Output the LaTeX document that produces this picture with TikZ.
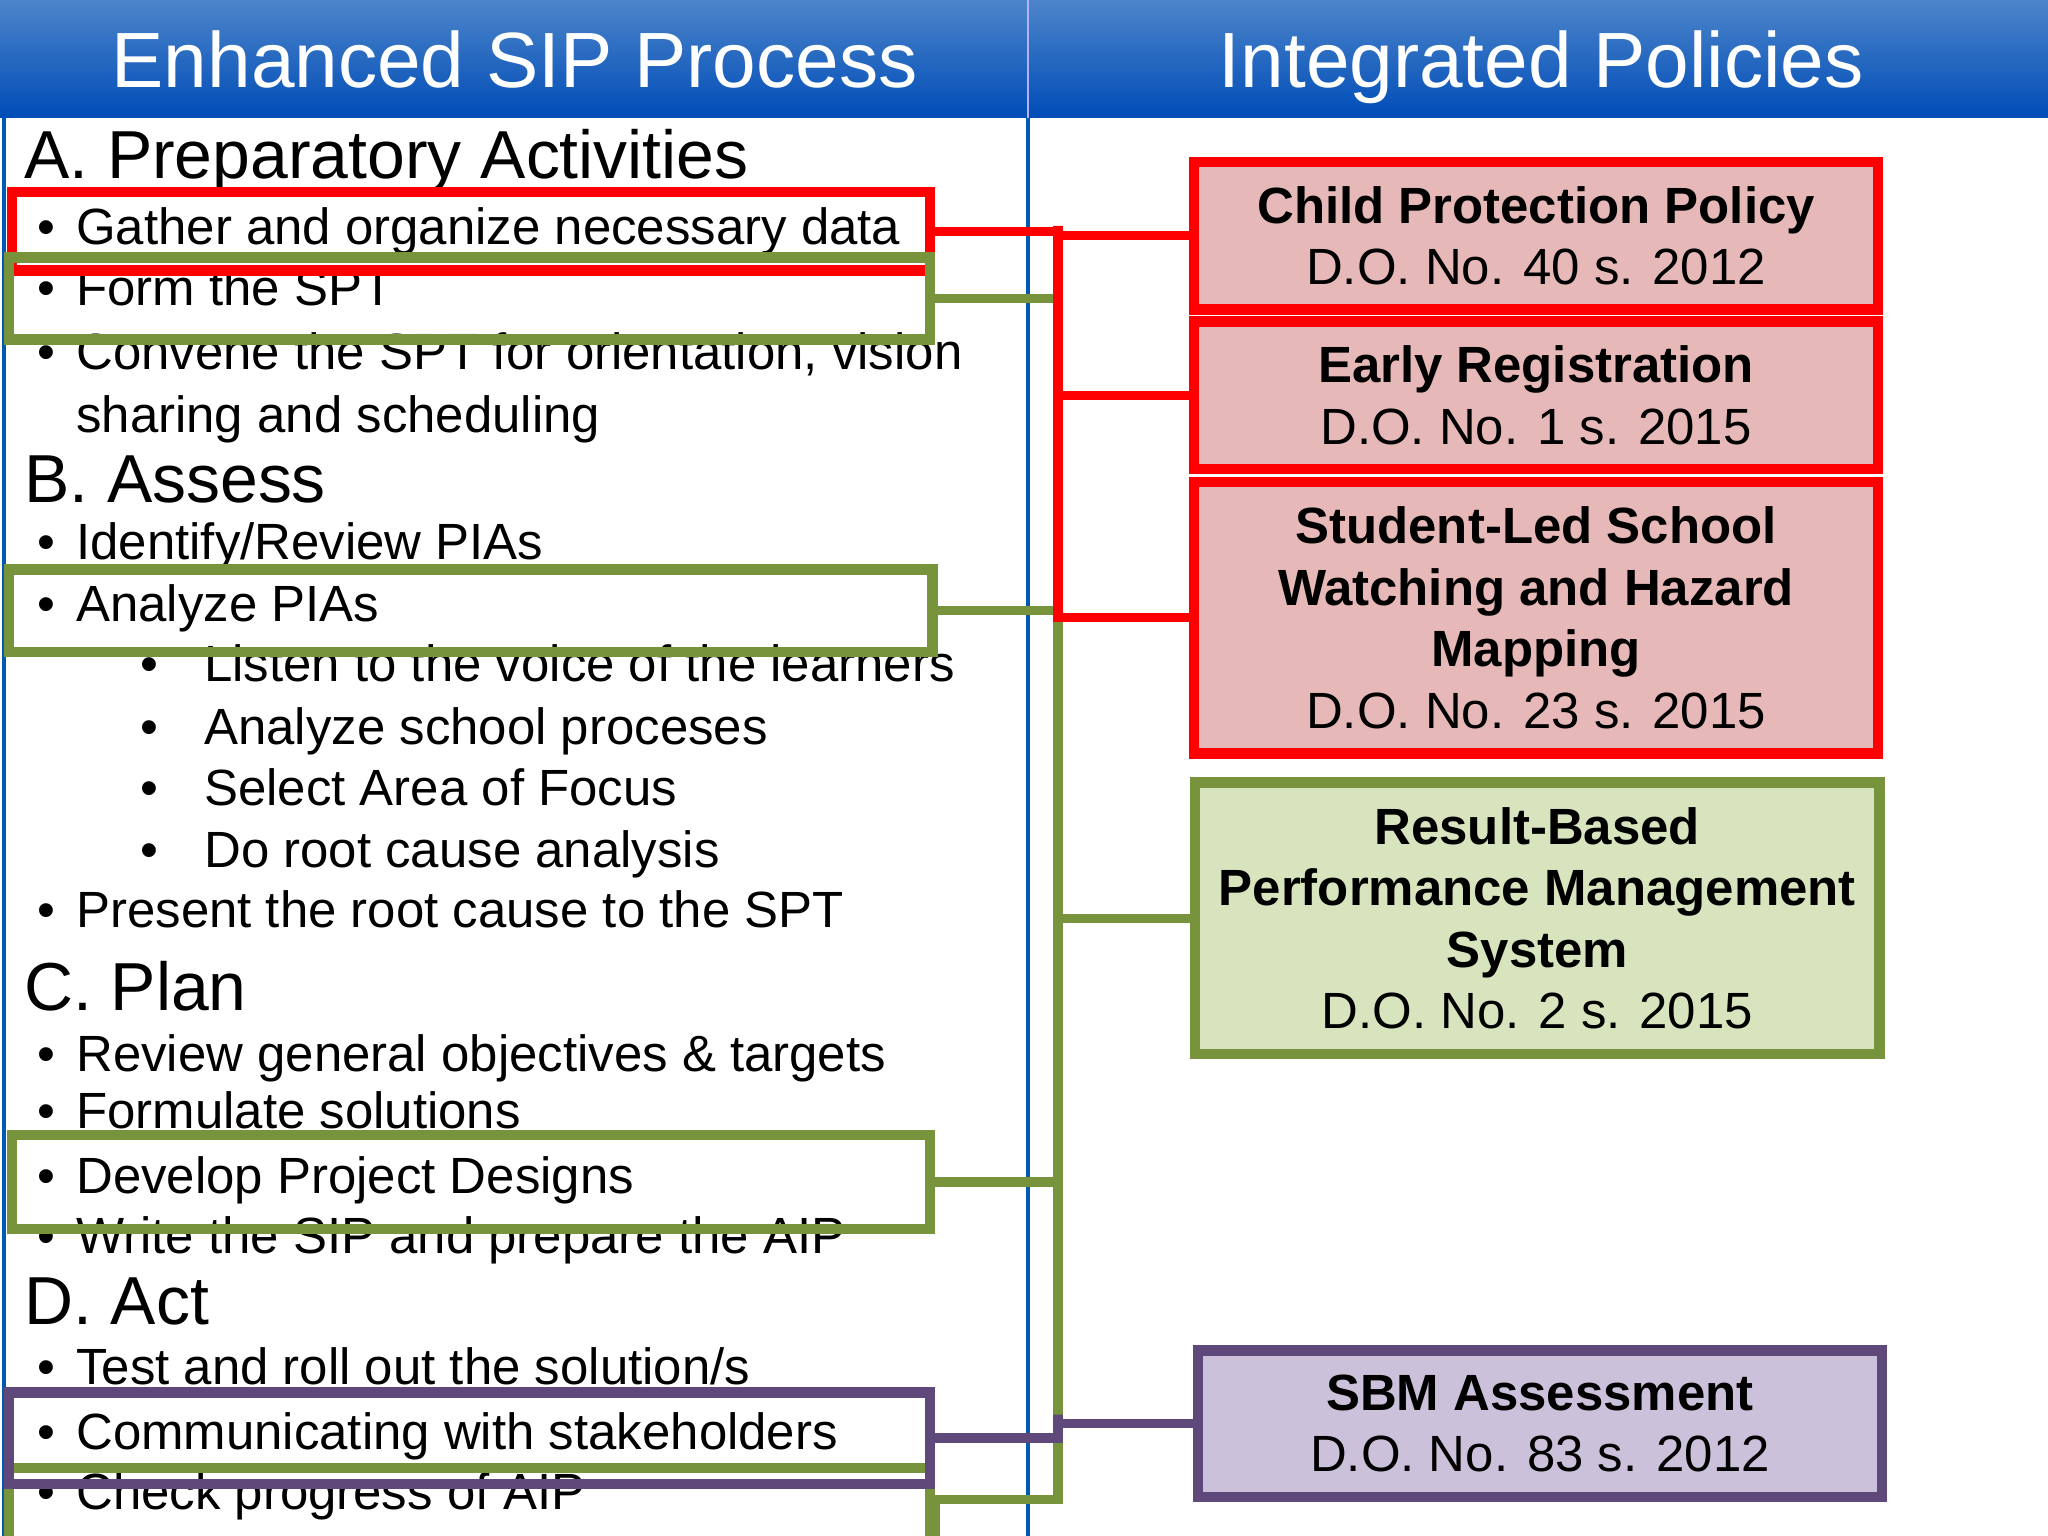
\documentclass[tikz,border=0pt]{standalone}
\usepackage{fontspec}
\setmainfont{Liberation Sans}
\begin{document}
\begin{tikzpicture}[x=0.5pt,y=-0.5pt,
  lt/.style={anchor=base west,inner sep=0,font=\fontsize{19.5}{22}\selectfont},
  hd/.style={anchor=base west,inner sep=0,font=\fontsize{26}{30}\selectfont},
  bx/.style={anchor=north west,inner sep=0,line width=4pt,minimum width=#1},
  rb/.style={anchor=north west,inner sep=0,line width=4pt,minimum width=262pt,align=center,font=\fontsize{19.5}{23.5}\selectfont},
]
\definecolor{rf}{HTML}{E6B9B8}\definecolor{gf}{HTML}{D7E4BD}\definecolor{gb}{HTML}{77933C}
\definecolor{pf}{HTML}{CCC1DA}\definecolor{pb}{HTML}{5F497A}
\useasboundingbox (0,0) rectangle (1568,1176);
\fill[white] (0,0) rectangle (1568,1176);
\shade[top color=blue!55!cyan!70!black!70!white,bottom color=blue!60!black!70!cyan] (0,0) rectangle (1568,90);
\draw[white!70!blue,line width=1pt] (787,0) -- (787,90);
\node[anchor=base,text=white,font=\fontsize{30}{32}\selectfont] (h1) at (394,67) {Enhanced SIP Process};
\node[anchor=base,text=white,font=\fontsize{30}{32}\selectfont] (h2) at (1180,67) {Integrated Policies};
\draw[blue!50!cyan!70!black,line width=1.5pt] (787,90) -- (787,1176) (3,90)--(3,1176);
% text
\node[hd] (a) at (18,137) {A. Preparatory Activities};
\foreach \y/\t [count=\i] in {187/Gather and organize necessary data,234/Form the SPT,283/{Convene the SPT for orientation, vision},
  428/{Identify/Review PIAs},476/Analyze PIAs,710/Present the root cause to the SPT,820/Review general objectives \& targets,
  864/Formulate solutions,914/Develop Project Designs,960/Write the SIP and prepare the AIP,1060/{Test and roll out the solution/s},
  1110/Communicating with stakeholders,1156/Check progress of AIP}{
  \node[lt] (b\i) at (58,\y) {\t};
  \node[lt] (d\i) at (28,\y) {•};}
\node[lt] (s0) at (58,331) {sharing and scheduling};
\node[hd] (bh) at (18,385) {B. Assess};
\node[hd] (ch) at (18,774) {C. Plan};
\node[hd] (dh) at (18,1014) {D. Act};
\foreach \y/\t in {522/Listen to the voice of the learners,570/Analyze school proceses,617/Select Area of Focus,664/Do root cause analysis}{
  \node[lt] at (107,\y) {•};\node[lt] at (156,\y) {\t};}
% left boxes
\node[bx=351.5pt,draw=red,minimum height=30pt] (gbox) at (5,143) {};
\node[bx=352.5pt,draw=gb,minimum height=31.5pt] (fbox) at (3,193) {};
\node[bx=353.5pt,draw=gb,minimum height=31.5pt] (abox) at (3,432) {};
\node[bx=351.5pt,draw=gb,minimum height=36pt] (dbox) at (5,865) {};
\node[bx=352.5pt,draw=gb,minimum height=60pt] (kbox) at (3,1120) {};
\node[bx=352.5pt,draw=pb,minimum height=35pt] (cbox) at (3,1062) {};
% right boxes
\node[rb,draw=red,fill=rf,minimum height=56.5pt] (r1) at (910,120) {\textbf{Child Protection Policy}\\D.O. No. 40 s. 2012};
\node[rb,draw=red,fill=rf,minimum height=56.5pt] (r2) at (910,242) {\textbf{Early Registration}\\D.O. No. 1 s. 2015};
\node[rb,draw=red,fill=rf,minimum height=104pt] (r3) at (910,365) {\textbf{Student-Led School}\\\textbf{Watching and Hazard}\\\textbf{Mapping}\\D.O. No. 23 s. 2015};
\node[rb,draw=gb,fill=gf,minimum height=104pt] (r4) at (911,595) {\textbf{Result-Based}\\\textbf{Performance Management}\\\textbf{System}\\D.O. No. 2 s. 2015};
\node[rb,draw=pb,fill=pf,minimum height=56pt] (r5) at (913,1030) {\textbf{SBM Assessment}\\D.O. No. 83 s. 2012};
% connectors
\coordinate (gt) at (810,225);\coordinate (gbm) at (810,1148);
\draw[draw=gb,line width=3.5pt,line join=miter] (fbox.east) -| (gt) -- (gbm) -| (kbox.east);
\draw[draw=gb,line width=3.5pt] (abox.east) -| (810,463) (dbox.east) -| (810,901) (810,697) |- (r4.west);
\coordinate (rt) at (810,173);
\draw[red,line width=3.5pt] (gbox.east) -| (rt) -- (810,467) |- (r3.west);
\draw[red,line width=3.5pt] (rt) |- (r1.west) (810,298) |- (r2.west);
\draw[pb,line width=3.5pt] (cbox.east) -| (810,1083) |- (r5.west);
\end{tikzpicture}
\end{document}
